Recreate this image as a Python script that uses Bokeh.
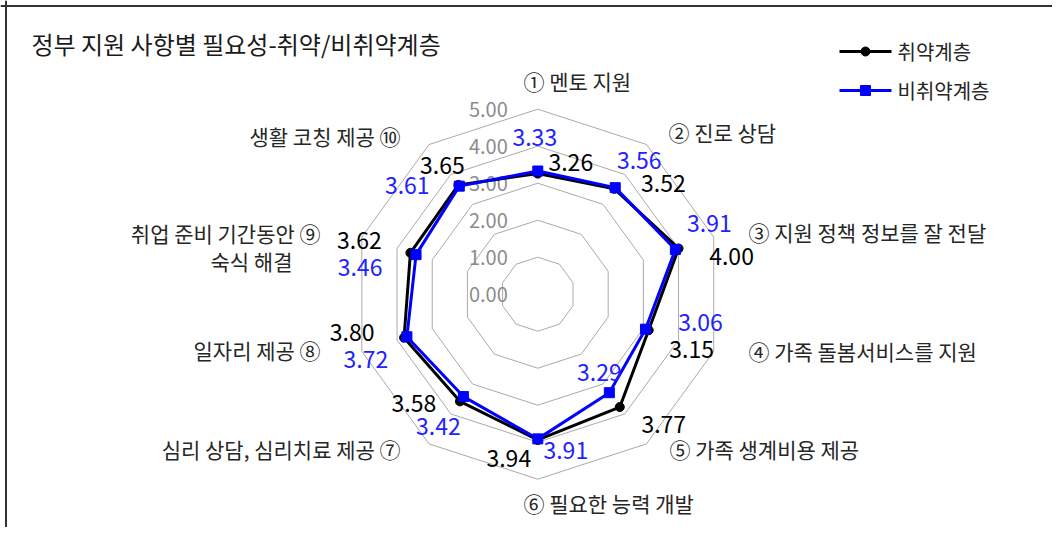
import numpy as np
from bokeh.plotting import figure
from bokeh.models import Range1d, Span
from bokeh.core.properties import value
from bokeh.embed import file_html
from bokeh.resources import INLINE

# ---------------- data ----------------
title_text = "정부 지원 사항별 필요성-취약/비취약계층"
categories = [
    "① 멘토 지원",
    "② 진로 상담",
    "③ 지원 정책 정보를 잘 전달",
    "④ 가족 돌봄서비스를 지원",
    "⑤ 가족 생계비용 제공",
    "⑥ 필요한 능력 개발",
    "심리 상담, 심리치료 제공 ⑦",
    "일자리 제공 ⑧",
    "취업 준비 기간동안 ⑨\n숙식 해결",
    "생활 코칭 제공 ⑩",
]
series_names = ["취약계층", "비취약계층"]
vulnerable = [3.26, 3.52, 4.00, 3.15, 3.77, 3.94, 3.58, 3.80, 3.62, 3.65]
non_vulnerable = [3.33, 3.56, 3.91, 3.06, 3.29, 3.91, 3.42, 3.72, 3.46, 3.61]
grid_levels = [0, 1, 2, 3, 4, 5]
grid_labels = ["0.00", "1.00", "2.00", "3.00", "4.00", "5.00"]

# ---------------- layout ----------------
W, H = 1052, 527
CX, CY = 537.3, 293.7     # radar centre in pixels
UNIT = 37.0               # pixels per value unit
FONT = "Noto Sans CJK KR"


def px(x):
    return (x - CX) / UNIT


def py(y):
    return (CY - y) / UNIT


p = figure(width=W, height=H, output_backend="svg", toolbar_location=None,
           x_range=Range1d(px(0), px(W)), y_range=Range1d(py(H), py(0)),
           min_border=0, background_fill_color="white", border_fill_color="white")
p.outline_line_color = None
p.axis.visible = False
p.grid.visible = False

n = len(categories)
theta = np.arange(n) * 2 * np.pi / n
sx, sy = np.sin(theta), np.cos(theta)

# grid rings
ring_xs, ring_ys = [], []
for k in grid_levels[1:]:
    ring_xs.append(list(k * sx) + [k * sx[0]])
    ring_ys.append(list(k * sy) + [k * sy[0]])
p.multi_line(ring_xs, ring_ys, line_color="#aaaaaa", line_width=1)

# grid labels
p.text(x=[0] * len(grid_levels), y=grid_levels, text=grid_labels,
       text_font=value(FONT), text_font_size="20px", text_color="#8c8c8c",
       text_align="right", text_baseline="middle", x_offset=-30)

# series
v1 = np.array(vulnerable)
v2 = np.array(non_vulnerable)
x1, y1 = v1 * sx, v1 * sy
x2, y2 = v2 * sx, v2 * sy
p.line(list(x1) + [x1[0]], list(y1) + [y1[0]], line_color="black", line_width=3)
p.scatter(x1, y1, marker="circle", size=9, fill_color="black", line_color="black")
p.line(list(x2) + [x2[0]], list(y2) + [y2[0]], line_color="#0000ff", line_width=3)
p.scatter(x2, y2, marker="square", size=10, fill_color="#0000ff", line_color="#0000ff")

# data labels (pixel offsets from each point)
off1 = [(33, -11), (49, -5), (53, 8), (43, 19), (44, 17),
        (-29, 19), (-46, 2), (-52, -5), (-51, -12), (-16, -19)]
off2 = [(-3, -33), (24, -27), (34, -26), (55, -7), (-10, -20),
        (28, 12), (-25, 30), (-41, 23), (-56, 13), (-52, -1)]
p.text(x=x1, y=y1, text=[f"{v:.2f}" for v in vulnerable],
       x_offset=[o[0] for o in off1], y_offset=[o[1] for o in off1],
       text_font=value(FONT), text_font_size="23px", text_color="#000000",
       text_align="center", text_baseline="middle")
p.text(x=x2, y=y2, text=[f"{v:.2f}" for v in non_vulnerable],
       x_offset=[o[0] for o in off2], y_offset=[o[1] for o in off2],
       text_font=value(FONT), text_font_size="23px", text_color="#2222ff",
       text_align="center", text_baseline="middle")

# category labels: (x, y, align) for each line
cat_pos = [
    [(523, 80, "left")],
    [(668, 131, "left")],
    [(748, 231, "left")],
    [(748, 350, "left")],
    [(669, 448, "left")],
    [(523, 502, "left")],
    [(400, 448, "right")],
    [(320, 349, "right")],
    [(320, 232, "right"), (292, 260, "right")],
    [(400, 135, "right")],
]
for label, poss in zip(categories, cat_pos):
    for line, (lx, ly, al) in zip(label.split("\n"), poss):
        p.text(x=[px(lx)], y=[py(ly)], text=[line], text_font=value(FONT),
               text_font_size="21px", text_color="#262626",
               text_align=al, text_baseline="middle")

# title
p.text(x=[px(31)], y=[py(43)], text=[title_text], text_font=value(FONT),
       text_font_size="24px", text_color="#1a1a1a",
       text_align="left", text_baseline="middle")

# frame lines (left / top)
p.add_layout(Span(location=px(5.5), dimension="height", line_color="#333333", line_width=2))
p.add_layout(Span(location=py(5.5), dimension="width", line_color="#333333", line_width=2))

# legend (drawn as line + marker + text)
leg_y = [51, 90]
leg_color = ["black", "#0000ff"]
leg_marker = ["circle", "square"]
leg_size = [9, 10]
for name, ly, c, mk, ms in zip(series_names, leg_y, leg_color, leg_marker, leg_size):
    p.line([px(839), px(891)], [py(ly), py(ly)], line_color=c, line_width=3)
    p.scatter([px(865)], [py(ly)], marker=mk, size=ms, fill_color=c, line_color=c)
    p.text(x=[px(897)], y=[py(ly)], text=[name], text_font=value(FONT),
           text_font_size="20px", text_color="#262626",
           text_align="left", text_baseline="middle")

open("out.html", "w").write(file_html(p, INLINE))
